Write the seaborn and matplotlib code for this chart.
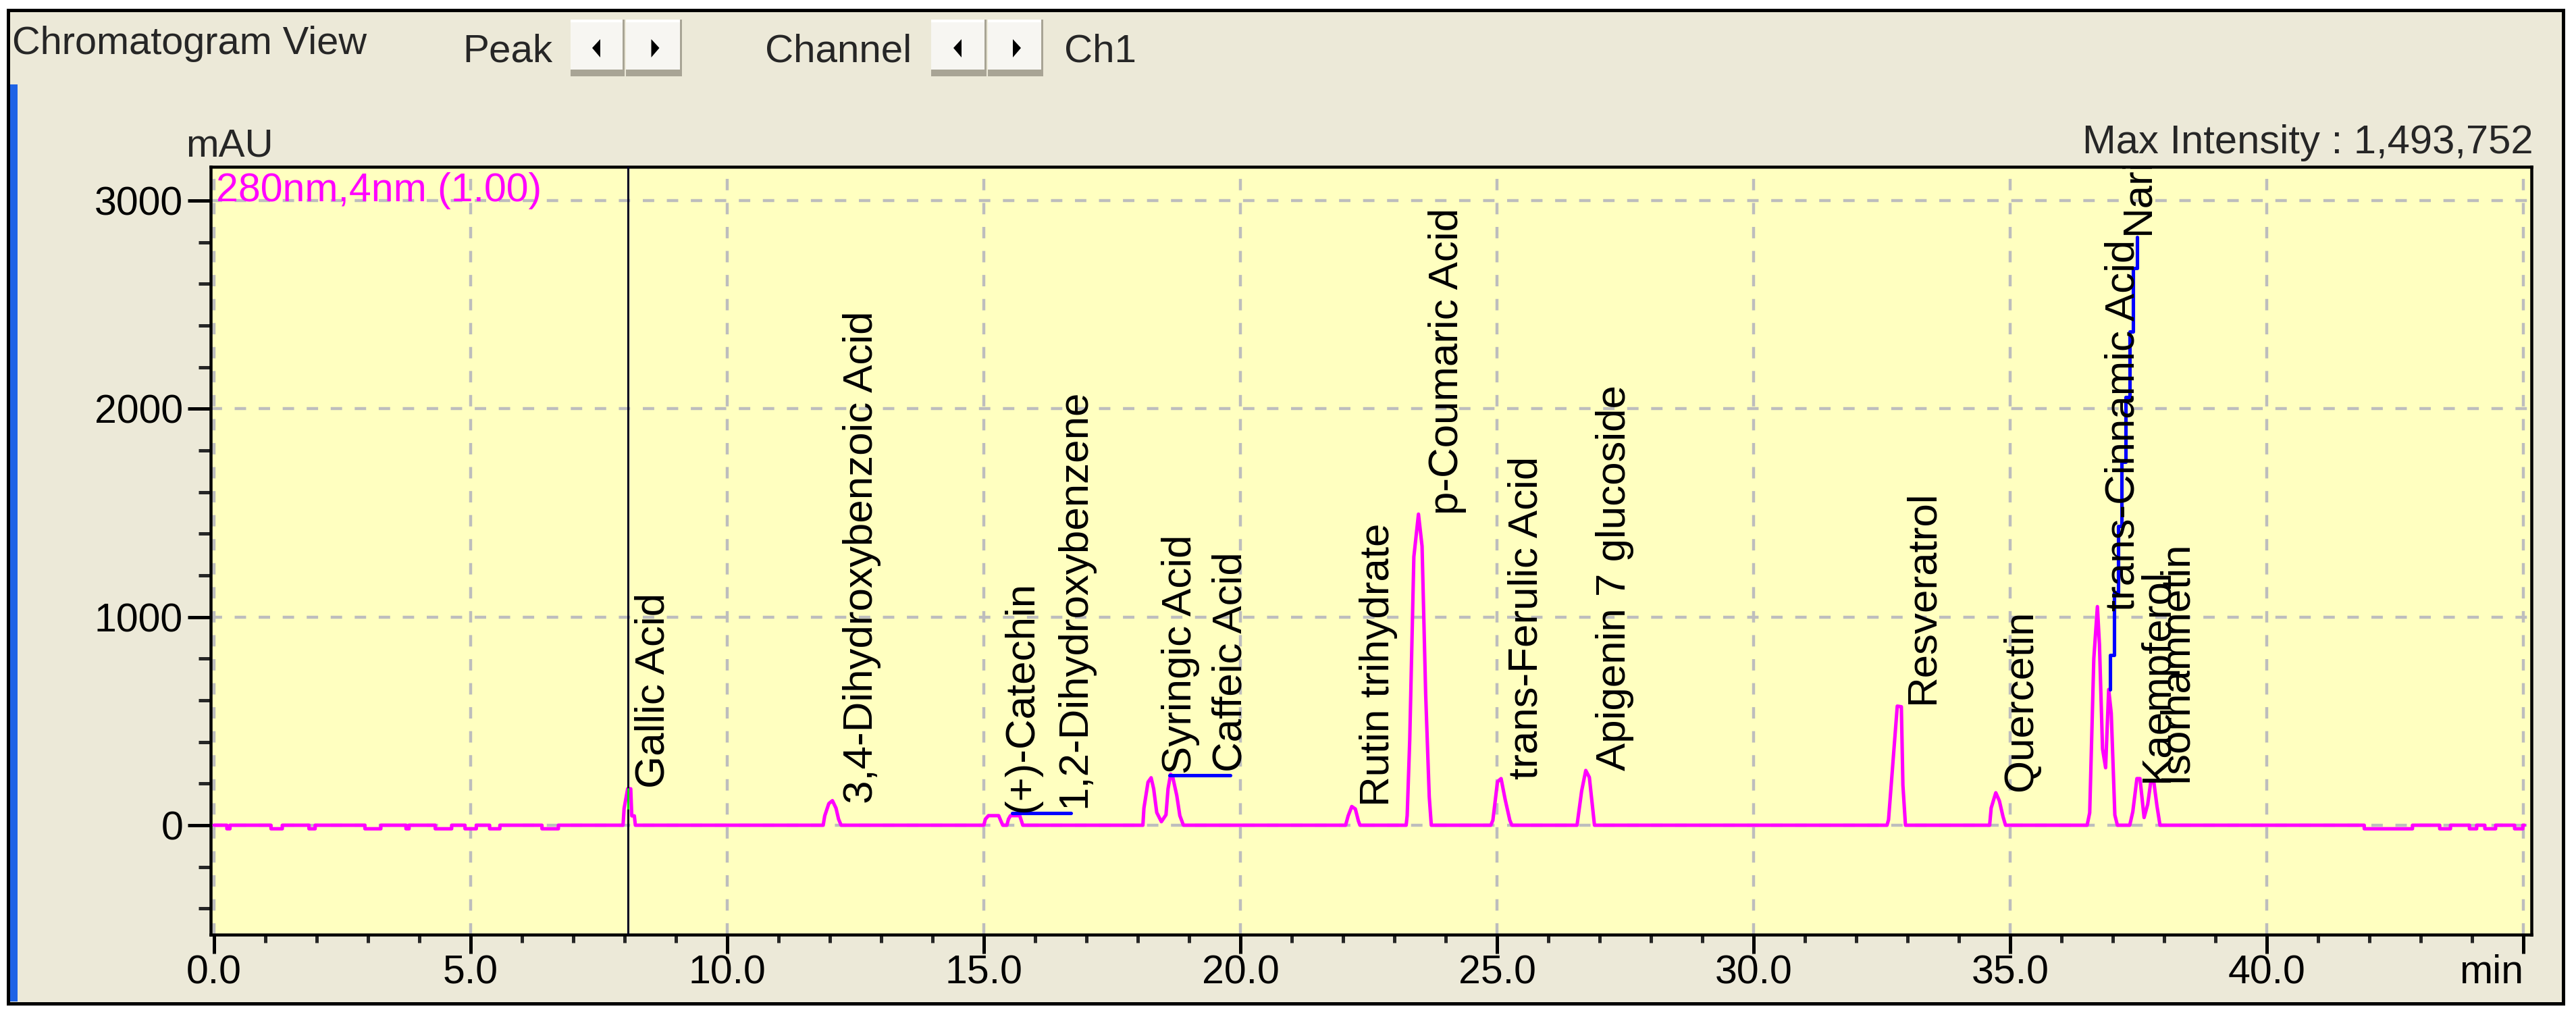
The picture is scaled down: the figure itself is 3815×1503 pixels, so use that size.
import matplotlib
matplotlib.use("Agg")
import matplotlib.pyplot as plt
from matplotlib.patches import Rectangle, Polygon
from matplotlib.ticker import MultipleLocator, FixedLocator
import seaborn as sns

# chromatogram trace: retention time (min) and signal (mAU)
trace_min = [0.00,
             0.25, 0.25, 0.31, 0.31, 1.11, 1.11, 1.33, 1.33, 1.85, 1.85, 1.97, 1.97,
             2.94, 2.94, 3.25, 3.25, 3.74, 3.74, 3.80, 3.80, 4.31, 4.31, 4.63, 4.63,
             4.89, 4.89, 5.11, 5.11, 5.37, 5.37, 5.57, 5.57, 6.39, 6.39, 6.71, 6.71,
             7.97, 7.99, 8.06, 8.12, 8.14, 8.19, 8.21,
             11.87, 11.90, 11.98, 12.05, 12.12, 12.17, 12.22,
             15.00, 15.03, 15.09, 15.29, 15.33, 15.37, 15.45, 15.48, 15.52, 15.70, 15.76,
             18.10, 18.12, 18.20, 18.26, 18.31, 18.37, 18.46, 18.55, 18.59, 18.64, 18.68,
             18.76, 18.82, 18.89,
             22.05, 22.10, 22.17, 22.24, 22.30, 22.33,
             23.23, 23.25, 23.30, 23.38, 23.47, 23.54, 23.61, 23.68, 23.72,
             24.88, 24.92, 25.01, 25.08, 25.16, 25.25, 25.29,
             26.56, 26.65, 26.73, 26.80, 26.87, 26.90,
             32.60, 32.63, 32.72, 32.80, 32.88, 32.91, 32.96,
             34.60, 34.63, 34.72, 34.79, 34.86, 34.91,
             36.50, 36.55, 36.63, 36.70, 36.74, 36.80, 36.86, 36.92, 36.97, 37.04, 37.09,
             37.33, 37.39, 37.47, 37.53, 37.61, 37.68, 37.74, 37.80, 37.86, 37.92,
             41.90, 41.90, 42.84, 42.84, 43.37, 43.37, 43.58, 43.58, 43.95, 43.95, 44.09, 44.09,
             44.25, 44.25, 44.46, 44.46, 44.83, 44.83, 44.99, 44.99, 45.02]
trace_mau = [0,
             0, -17, -17, 0, 0, -17, -17, 0, 0, -17, -17, 0,
             0, -17, -17, 0, 0, -17, -17, 0, 0, -17, -17, 0,
             0, -17, -17, 0, 0, -17, -17, 0, 0, -17, -17, 0,
             0, 80, 175, 175, 45, 45, 0,
             0, 45, 104, 118, 82, 29, 0,
             0, 29, 46, 46, 22, 0, 0, 29, 46, 46, 0,
             0, 82, 207, 228, 175, 61, 17, 50, 175, 245, 233,
             143, 46, 0,
             0, 45, 90, 78, 20, 0,
             0, 46, 412, 1289, 1494, 1340, 632, 137, 0,
             0, 24, 209, 224, 123, 24, 0,
             0, 165, 263, 230, 68, 0,
             0, 26, 315, 572, 569, 192, 0,
             0, 83, 156, 117, 42, 0,
             0, 60, 800, 1050, 868, 367, 276, 652, 538, 49, 0,
             0, 65, 224, 224, 37, 100, 208, 208, 94, 0,
             0, -17, -17, 0, 0, -17, -17, 0, 0, -17, -17, 0,
             0, -17, -17, 0, 0, -17, -17, 0, 0]

# peak labels: name, centre of the label (min), foot of the label (mAU)
peak_names = ["Gallic Acid", "3,4-Dihydroxybenzoic Acid", "(+)-Catechin",
              "1,2-Dihydroxybenzene", "Syringic Acid", "Caffeic Acid",
              "Rutin trihydrate", "p-Coumaric Acid", "trans-Ferulic Acid",
              "Apigenin 7 glucoside", "Resveratrol", "Quercetin",
              "trans-Cinnamic Acid", "Naringenin", "Kaempferol", "Isorhamnetin"]
label_min = [8.57, 12.63, 15.74, 16.77, 18.84, 19.82, 22.69, 24.03, 25.58,
             27.29, 33.30, 35.22, 37.21, 37.50, 37.87, 38.23]
label_mau = [179, 104, 61, 85, 245, 256, 90, 1492, 220,
             263, 584, 162, 1028, 2838, 208, 208]

# blue leader lines
catechin_min = [15.55, 16.70]
catechin_mau = [57, 57]
caffeic_min = [18.62, 19.80]
caffeic_mau = [241, 241]
nar_min = [36.95, 37.02, 37.10, 37.17, 37.25, 37.33, 37.40, 37.48, 37.48]
nar_mau = [652, 816, 1118, 1437, 1744, 2056, 2370, 2677, 2826]

cursor_min = 8.06
xtick_labels = ["0.0", "5.0", "10.0", "15.0", "20.0", "25.0", "30.0", "35.0", "40.0", "min"]
ytick_values = [0, 1000, 2000, 3000]

sns.set_style("ticks")
plt.rcParams["font.family"] = ["Liberation Sans", "DejaVu Sans"]

W, H = 3816, 1503
fig = plt.figure(figsize=(W / 100, H / 100), dpi=100, facecolor="white")

# window chrome drawn in pixel coordinates
bg = fig.add_axes([0, 0, 1, 1], zorder=0)
bg.set_xlim(0, W)
bg.set_ylim(H, 0)
bg.axis("off")
bg.add_patch(Rectangle((12, 15), 3784, 1471, facecolor="#ECE9D8", edgecolor="black", lw=3.6))
bg.add_patch(Rectangle((15, 125), 11, 1358, facecolor="#1E63E6", edgecolor="none"))


def button(x0, x1, direction):
    y0, y1 = 29, 113
    bg.add_patch(Rectangle((x0, y0), x1 - x0, y1 - y0, facecolor="#F7F6F2", edgecolor="none"))
    bg.add_patch(Rectangle((x0, y0), x1 - x0, 4, facecolor="white", edgecolor="none"))
    bg.add_patch(Rectangle((x0, y1 - 10), x1 - x0, 10, facecolor="#A8A495", edgecolor="none"))
    bg.add_patch(Rectangle((x1 - 3, y0), 3, y1 - y0, facecolor="#A8A495", edgecolor="none"))
    cx = (x0 + x1) / 2
    if direction == "left":
        tri = [(cx - 8, 71), (cx + 4, 58), (cx + 4, 85)]
    else:
        tri = [(cx + 8, 71), (cx - 4, 58), (cx - 4, 85)]
    bg.add_patch(Polygon(tri, closed=True, facecolor="black", edgecolor="none"))


button(845, 925, "left")
button(927, 1010, "right")
button(1379, 1461, "left")
button(1463, 1545, "right")

bg.text(18, 80, "Chromatogram View", fontsize=41.6, va="baseline", ha="left")
bg.text(685, 92, "Peak", fontsize=42, va="baseline", ha="left")
bg.text(1133, 92, "Channel", fontsize=42, va="baseline", ha="left")
bg.text(1576, 92, "Ch1", fontsize=42, va="baseline", ha="left")
bg.text(275, 232, "mAU", fontsize=42, va="baseline", ha="left")
bg.text(3752, 227, "Max Intensity : 1,493,752", fontsize=43, va="baseline", ha="right")

# chromatogram axes
left, right, top, bottom = 312, 3749, 247, 1384
ax = fig.add_axes([left / W, 1 - bottom / H, (right - left) / W, (bottom - top) / H], zorder=1)
ax.set_facecolor("#FFFFC0")

sns.lineplot(x=trace_min, y=trace_mau, estimator=None, sort=False, color="#FF00FF",
             lw=3.7, ax=ax, zorder=3)
sns.lineplot(x=catechin_min, y=catechin_mau, estimator=None, sort=False, color="#0000FF",
             lw=3.7, ax=ax, zorder=4)
sns.lineplot(x=caffeic_min, y=caffeic_mau, estimator=None, sort=False, color="#0000FF",
             lw=3.7, ax=ax, zorder=4)
ax.plot(nar_min, nar_mau, color="#0000FF", lw=3.7, drawstyle="steps-pre", zorder=4)

ax.axvline(cursor_min, color="#000022", lw=2.2, zorder=5)
ax.plot([cursor_min, cursor_min], [82, 175], color="#00E000", lw=2.2, zorder=6)

for name, xm, ym in zip(peak_names, label_min, label_mau):
    ax.text(xm, ym, name, rotation=90, ha="center", va="bottom", fontsize=44.6,
            color="black", clip_on=True, zorder=7)

ax.text(0.0023, 0.955, "280nm,4nm (1.00)", transform=ax.transAxes, color="#FF00FF",
        fontsize=42.5, ha="left", va="baseline", zorder=8)

ax.set_xlim((left - 317) / 76.0, (right - 317) / 76.0)
ax.set_ylim(-525.4, 3162)

ax.xaxis.set_major_locator(MultipleLocator(5))
ax.xaxis.set_minor_locator(MultipleLocator(1))
ax.yaxis.set_major_locator(FixedLocator(ytick_values))
ax.yaxis.set_minor_locator(MultipleLocator(200))
ax.set_xticks([5 * i for i in range(len(xtick_labels))])
ax.set_xticklabels(xtick_labels)
ax.set_yticks(ytick_values)
ax.set_yticklabels([str(v) for v in ytick_values])
ax.get_xticklabels()[-1].set_horizontalalignment("right")

ax.tick_params(axis="x", which="major", direction="out", length=20, width=3.6, pad=1,
               labelsize=42.5, colors="black")
ax.tick_params(axis="x", which="minor", direction="out", length=8.6, width=3.6)
ax.tick_params(axis="y", which="major", direction="out", length=24.5, width=3.6, pad=5,
               labelsize=42.5, colors="black")
ax.tick_params(axis="y", which="minor", direction="out", length=13, width=3.6)

for side in ["left", "right", "top", "bottom"]:
    ax.spines[side].set_visible(True)
    ax.spines[side].set_color("black")
    ax.spines[side].set_linewidth(3.24)

ax.set_axisbelow(True)
ax.grid(True, which="major", color="#BDBDBD", lw=3.2, linestyle=(0, (3.8, 4.2)))
ax.set_xlabel("")
ax.set_ylabel("")

fig.savefig("out.png", dpi=100, facecolor="white")
